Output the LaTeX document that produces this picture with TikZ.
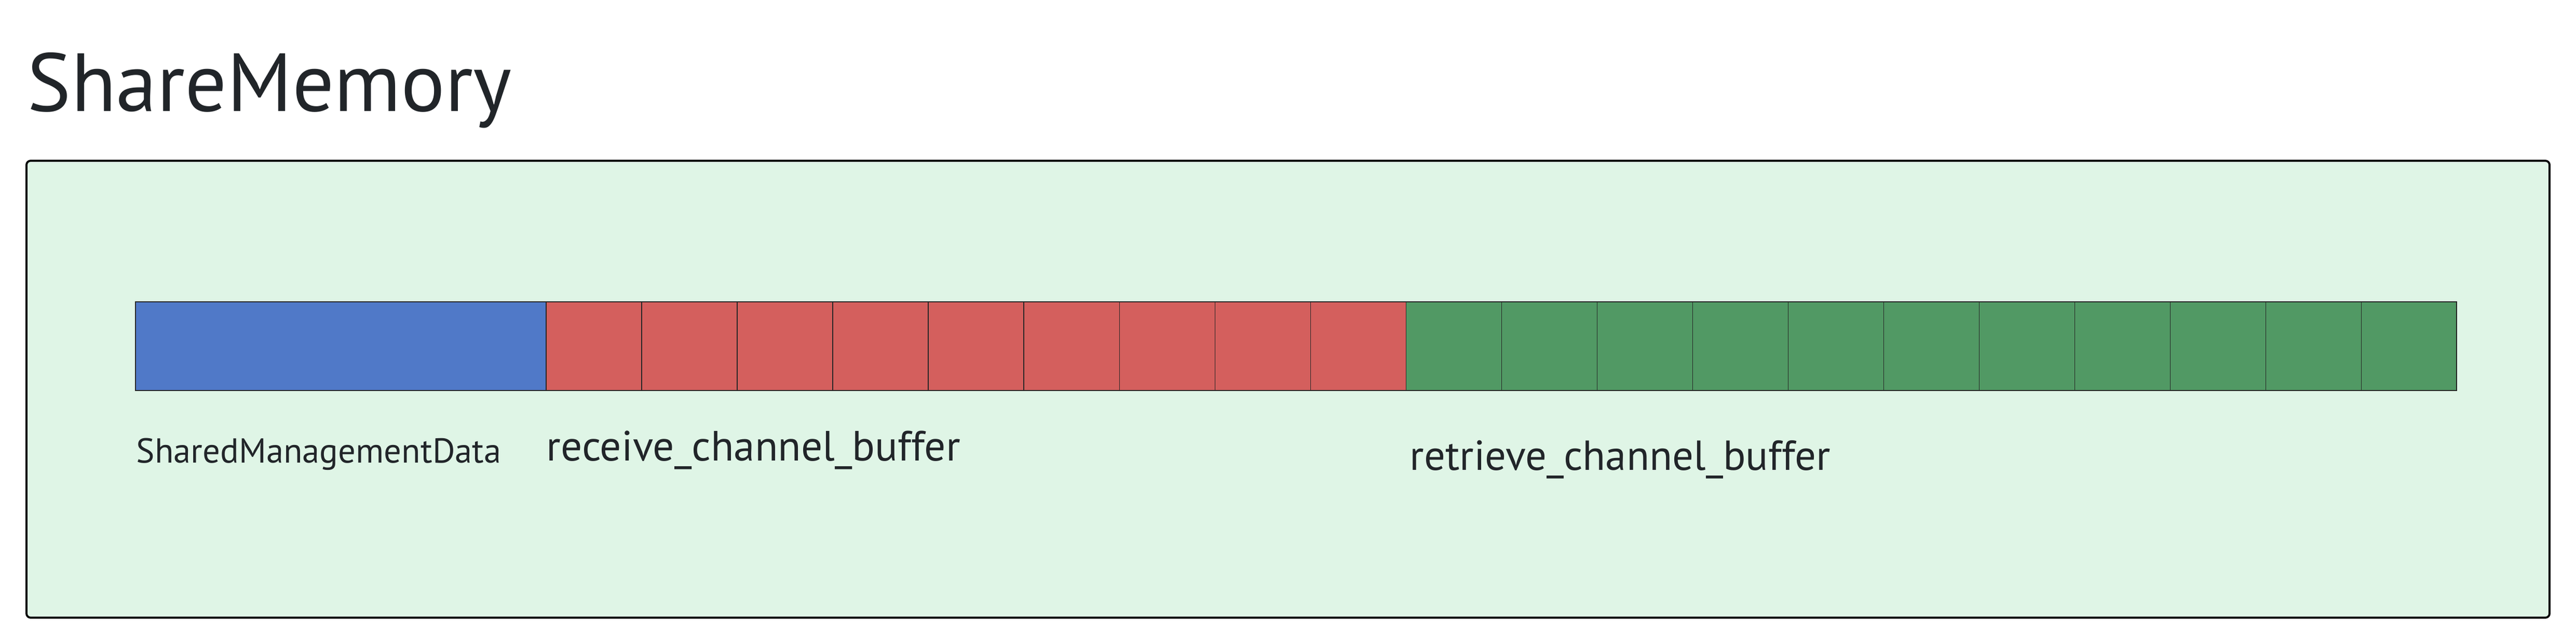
\documentclass[tikz,border=0pt]{standalone}
\usepackage{fontspec}
\setmainfont{PT Sans}
\usetikzlibrary{positioning}
\definecolor{memback}{RGB}{223,245,230}
\definecolor{mgmtblue}{RGB}{80,121,200}
\definecolor{recvred}{RGB}{212,95,93}
\definecolor{retrgreen}{RGB}{81,153,100}
\definecolor{inktext}{RGB}{33,37,41}
\tikzset{
    cell/.style={draw=black!85, line width=0.3pt, inner sep=0, outer sep=0, anchor=north west,
        minimum width=1.84cm, minimum height=1.71cm},
    lbl/.style={inner sep=0, anchor=base west, text=inktext}
}
\begin{document}
\begin{tikzpicture}
    \useasboundingbox (0, 0) rectangle (49.62, -12.36);
    \node [lbl, font=\fontsize{45.2}{52}\selectfont] (title) at (0.52, -2.15) {ShareMemory};
    \draw [fill=memback, line width=1.1pt, rounded corners=0.08cm] (0.51, -3.10) rectangle (49.11, -11.91);
    % management block
    \node [cell, fill=mgmtblue, minimum width=7.91cm] (smd) at (2.61, -5.82) {};
    % receive buffer cells
    \node [cell, fill=recvred] (rcv1) at (smd.north east) {};
    \foreach \i [count=\j from 1] in {2,...,9}
        \node [cell, fill=recvred] (rcv\i) at (rcv\j.north east) {};
    % retrieve buffer cells
    \node [cell, fill=retrgreen] (rtv1) at (rcv9.north east) {};
    \foreach \i [count=\j from 1] in {2,...,11}
        \node [cell, fill=retrgreen] (rtv\i) at (rtv\j.north east) {};
    \draw [line width=0.8pt, black!85] (smd.north west) rectangle (rtv11.south east);
    \node [lbl, font=\fontsize{19}{23}\selectfont] (smdlbl) at (2.62, -8.92) {SharedManagementData};
    \node [lbl, font=\fontsize{23.2}{28}\selectfont] (rcvlbl) at (10.52, -8.88) {receive\_channel\_buffer};
    \node [lbl, font=\fontsize{23}{28}\selectfont] (rtvlbl) at (27.15, -9.06) {retrieve\_channel\_buffer};
\end{tikzpicture}
\end{document}
